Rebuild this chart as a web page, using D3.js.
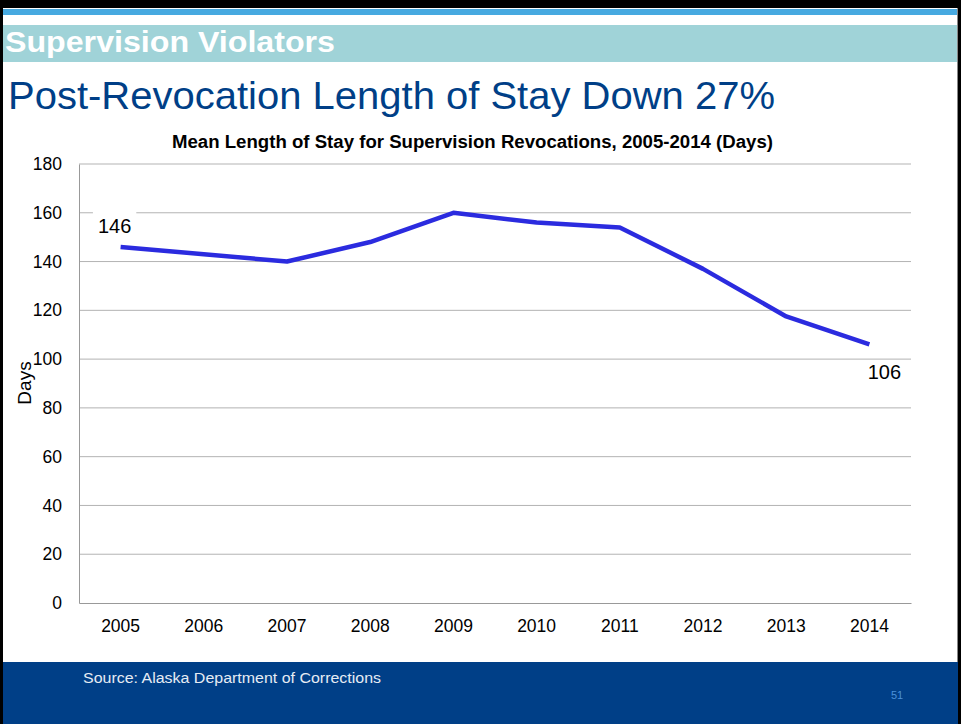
<!DOCTYPE html>
<html><head><meta charset="utf-8">
<script src="https://cdn.jsdelivr.net/npm/d3@7"></script>
<style>body{margin:0;padding:0;background:#fff;overflow:hidden}svg{display:block}text{font-family:"Liberation Sans",Arial,sans-serif}</style>
</head><body>
<script>
const years = ["2005","2006","2007","2008","2009","2010","2011","2012","2013","2014"];
const meanStay = [146,143,140,148,160,156,154,137,117.5,106];
const yTicks = [0,20,40,60,80,100,120,140,160,180];
const pointLabels = [{i:0,text:"146"},{i:9,text:"106"}];

const W=961,H=724;
const svg=d3.select("body").append("svg").attr("width",W).attr("height",H);
// frame
svg.append("rect").attr("x",0).attr("y",0).attr("width",W).attr("height",H).attr("fill","#000");
svg.append("rect").attr("x",3).attr("y",8).attr("width",955).attr("height",H-8).attr("fill","#fff");
svg.append("rect").attr("x",957).attr("y",8).attr("width",1).attr("height",H-8).attr("fill","#888");
svg.append("rect").attr("x",3).attr("y",9).attr("width",954).attr("height",6).attr("fill","#47a9e0");
svg.append("rect").attr("x",3).attr("y",25).attr("width",954).attr("height",37).attr("fill","#a0d3d8");
svg.append("text").attr("x",5).attr("y",52).attr("fill","#fff").attr("font-size",30).attr("font-weight","bold")
  .attr("textLength",330).attr("lengthAdjust","spacingAndGlyphs").text("Supervision Violators");
svg.append("text").attr("x",8).attr("y",109).attr("fill","#003f87").attr("font-size",39)
  .attr("textLength",767).attr("lengthAdjust","spacingAndGlyphs").text("Post-Revocation Length of Stay Down 27%");
svg.append("text").attr("x",172).attr("y",148).attr("font-size",17.5).attr("font-weight","bold").attr("fill","#000")
  .attr("textLength",601).attr("lengthAdjust","spacingAndGlyphs").text("Mean Length of Stay for Supervision Revocations, 2005-2014 (Days)");

// footer
svg.append("rect").attr("x",3).attr("y",662).attr("width",955).attr("height",62).attr("fill","#003f87");
svg.append("text").attr("x",83).attr("y",683).attr("fill","#e6ecf4").attr("font-size",15.5)
  .attr("textLength",298).attr("lengthAdjust","spacingAndGlyphs").text("Source: Alaska Department of Corrections");
svg.append("text").attr("x",891).attr("y",699).attr("fill","#4a90d9").attr("font-size",11).text("51");

const L=79,R=911,T=164,B=603;
const x=d3.scaleBand().domain(years).range([L,R]);
const y=d3.scaleLinear().domain([0,180]).range([B,T]);
const g=svg.append("g");
// gridlines
g.selectAll("line.grid").data(yTicks.filter(d=>d>0)).enter().append("line")
 .attr("x1",L).attr("x2",R).attr("y1",d=>y(d)).attr("y2",d=>y(d)).attr("stroke","#b3b3b3").attr("stroke-width",1);
// axes
const yAxis=d3.axisLeft(y).tickValues(yTicks).tickSize(0).tickPadding(17);
const ya=g.append("g").attr("transform",`translate(${L},0)`).call(yAxis);
ya.select(".domain").attr("stroke","#999");
ya.selectAll("text").attr("font-size",17.5).attr("fill","#000").style("font-family","Liberation Sans, Arial, sans-serif");
const xAxis=d3.axisBottom(x).tickSize(0).tickPadding(14);
const xa=g.append("g").attr("transform",`translate(0,${B})`).call(xAxis);
xa.select(".domain").attr("stroke","#999");
xa.selectAll("text").attr("font-size",17.5).attr("fill","#000").attr("dy","0.85em").style("font-family","Liberation Sans, Arial, sans-serif");
// y title
svg.append("text").attr("transform","translate(31,383) rotate(-90)").attr("text-anchor","middle").attr("font-size",19).text("Days");
// line
const line=d3.line().x((d,i)=>x(years[i])+x.bandwidth()/2).y(d=>y(d));
const lg=svg.append("g");
lg.append("path").datum(meanStay).attr("d",line).attr("fill","none").attr("stroke","#2b2bdf").attr("stroke-width",4.5).attr("stroke-linejoin","round");
// labels
const labG=svg.append("g");
pointLabels.forEach(p=>{
  const px=x(years[p.i])+x.bandwidth()/2, py=y(meanStay[p.i]);
  const dy = p.i===0 ? -14 : 35;
  const dx = p.i===0 ? -6 : 15;
  if(p.i===0){
    const bg=labG.append("rect").attr("fill","#fff");
    const t=labG.append("text").attr("x",px+dx).attr("y",py+dy).attr("text-anchor","middle").attr("font-size",20).attr("fill","#000").text(p.text);
    const bb=t.node().getBBox();
    bg.attr("x",bb.x-5).attr("y",bb.y-6).attr("width",bb.width+10).attr("height",bb.height+8);
  } else {
    labG.append("text").attr("x",px+dx).attr("y",py+dy).attr("text-anchor","middle").attr("font-size",20).attr("fill","#000").text(p.text);
  }
});
</script>
</body></html>
